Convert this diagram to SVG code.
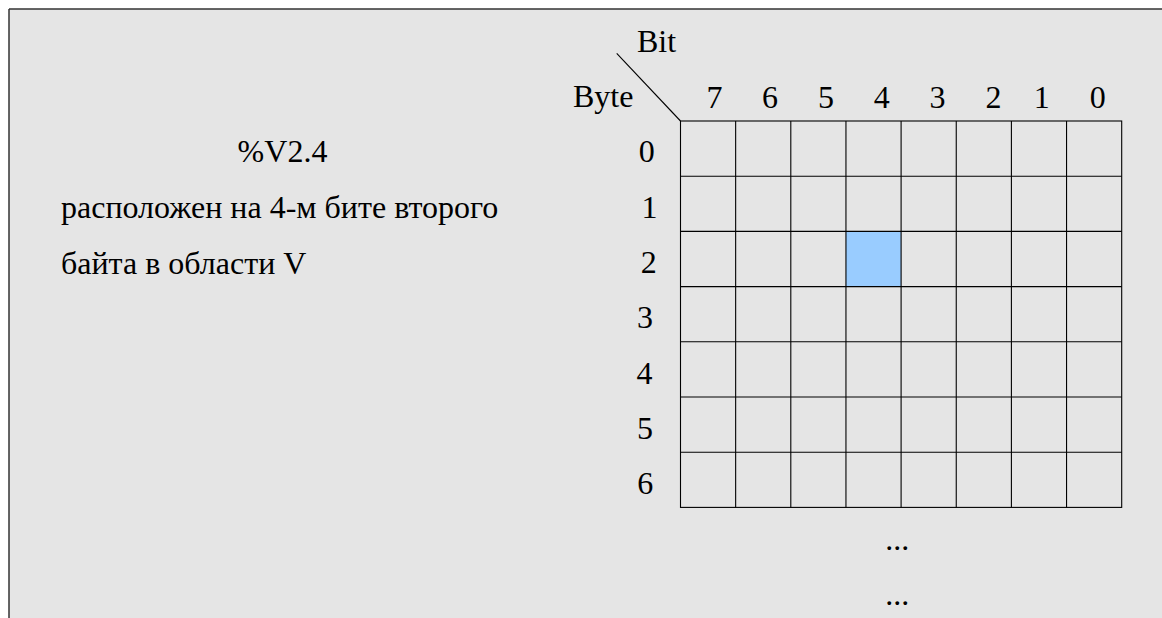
<svg xmlns="http://www.w3.org/2000/svg" width="1162" height="618" viewBox="0 0 1162 618">
  <style>
    .t { font-family: "Liberation Serif", "Times New Roman", serif; font-size: 32px; fill: #000; }
    .m { text-anchor: middle; }
    .grid line { stroke: #000; stroke-width: 1.1; }
    .cell { fill: none; stroke: #000; stroke-width: 1.1; }
  </style>

  <!-- page background and frame -->
  <rect x="0" y="0" width="1162" height="618" fill="#ffffff"/>
  <rect id="panel" x="9" y="9" width="1153" height="609" fill="#e5e5e5"/>
  <g id="frame" stroke="#333" stroke-width="1.5" fill="none">
    <line x1="9" y1="9" x2="1162" y2="9"/>
    <line x1="9" y1="9" x2="9" y2="618"/>
  </g>

  <!-- description on the left -->
  <g id="description">
    <text class="t m" x="282.5" y="162">%V2.4</text>
    <text class="t" x="61" y="217.5">расположен на 4-м бите второго</text>
    <text class="t" x="61" y="273.5">байта в области V</text>
  </g>

  <!-- corner header: axis names and the diagonal divider -->
  <g id="corner">
    <line x1="616.7" y1="53.3" x2="680.5" y2="121" stroke="#000" stroke-width="1.1"/>
    <text class="t" x="637" y="52.3">Bit</text>
    <text class="t" x="573" y="107">Byte</text>
  </g>

  <!-- bit numbers -->
  <g id="bit-labels">
    <text class="t m" x="714.5" y="107.7">7</text>
    <text class="t m" x="770" y="107.7">6</text>
    <text class="t m" x="826" y="107.7">5</text>
    <text class="t m" x="881.7" y="107.7">4</text>
    <text class="t m" x="937.5" y="107.7">3</text>
    <text class="t m" x="993.5" y="107.7">2</text>
    <text class="t m" x="1041.7" y="107.7">1</text>
    <text class="t m" x="1097.8" y="107.7">0</text>
  </g>

  <!-- byte numbers -->
  <g id="byte-labels">
    <text class="t m" x="646.7" y="162.3">0</text>
    <text class="t m" x="649.5" y="217.5">1</text>
    <text class="t m" x="648.8" y="273">2</text>
    <text class="t m" x="645" y="328.3">3</text>
    <text class="t m" x="644.5" y="383.5">4</text>
    <text class="t m" x="645" y="438.5">5</text>
    <text class="t m" x="645.3" y="493.5">6</text>
  </g>

  <!-- highlighted bit: byte 2, bit 4 -->
  <g id="bit-2-4">
    <rect x="845.95" y="231.4" width="55.15" height="55.2" fill="#99ccff"/>
  </g>

  <!-- 8 x 7 bit grid -->
  <g id="grid" class="grid">
    <line x1="735.65" y1="121" x2="735.65" y2="507.4"/>
    <line x1="790.8" y1="121" x2="790.8" y2="507.4"/>
    <line x1="845.95" y1="121" x2="845.95" y2="507.4"/>
    <line x1="901.1" y1="121" x2="901.1" y2="507.4"/>
    <line x1="956.25" y1="121" x2="956.25" y2="507.4"/>
    <line x1="1011.4" y1="121" x2="1011.4" y2="507.4"/>
    <line x1="1066.55" y1="121" x2="1066.55" y2="507.4"/>
    <line x1="680.5" y1="176.2" x2="1121.7" y2="176.2"/>
    <line x1="680.5" y1="231.4" x2="1121.7" y2="231.4"/>
    <line x1="680.5" y1="286.6" x2="1121.7" y2="286.6"/>
    <line x1="680.5" y1="341.8" x2="1121.7" y2="341.8"/>
    <line x1="680.5" y1="397" x2="1121.7" y2="397"/>
    <line x1="680.5" y1="452.2" x2="1121.7" y2="452.2"/>
    <rect class="cell" x="680.5" y="121" width="441.2" height="386.4"/>
  </g>

  <!-- continuation marks -->
  <g id="continuation">
    <text class="t m" x="897.3" y="550">...</text>
    <text class="t m" x="897.3" y="605">...</text>
  </g>
</svg>
